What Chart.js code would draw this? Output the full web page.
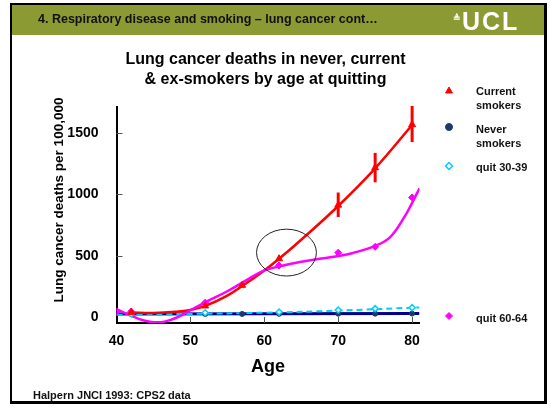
<!DOCTYPE html>
<html>
<head>
<meta charset="utf-8">
<script src="https://cdn.jsdelivr.net/npm/chart.js@4.4.1/dist/chart.umd.min.js"></script>
<style>
    body { margin: 0; background: #fff; font-family: Arial, "Liberation Sans", sans-serif; }
    #wrap { position: relative; width: 551px; height: 410px; overflow: hidden; }
    #chart { position: absolute; left: 0; top: 0; }
    .frame { position: absolute; left: 10px; top: 3px; width: 532px; height: 396px;
        border-style: solid; border-color: #000; border-width: 2px 3px 3px 2px; }
    .header { position: absolute; left: 12px; top: 5px; width: 532px; height: 30px; background: #8b9a32; }
    .header-text { position: absolute; left: 38px; top: 12px; font-size: 12.5px; font-weight: bold; color: #111; white-space: nowrap; }
    .logo { position: absolute; left: 462px; top: 7px; font-size: 25px; font-weight: bold; color: #fff; letter-spacing: 2px; }
    .logo-mark { position: absolute; left: 453px; top: 13px; font-size: 9px; color: #fff; font-weight: bold; }
    .title { position: absolute; left: 100px; top: 49px; width: 331px; text-align: center;
        font-size: 16px; line-height: 20px; font-weight: bold; color: #000; }
    .ytitle { position: absolute; left: 58px; top: 200px; font-size: 13.5px; font-weight: bold; white-space: nowrap;
        transform: translate(-50%, -50%) rotate(-90deg); }
    .legend { position: absolute; left: 476px; font-size: 11px; font-weight: bold; line-height: 14px; color: #111; }
    .footer { position: absolute; left: 33px; top: 389px; font-size: 11px; font-weight: bold; color: #111; }
</style>
</head>
<body>
<div id="wrap">
    <canvas id="chart" width="551" height="410"></canvas>
    <div class="header"></div>
    <div class="header-text">4. Respiratory disease and smoking – lung cancer cont…</div>
    <div class="logo-mark">≜</div>
    <div class="logo">UCL</div>
    <div class="frame"></div>
    <div class="title">Lung cancer deaths in never, current<br>&amp; ex-smokers by age at quitting</div>
    <div class="ytitle">Lung cancer deaths per 100,000</div>
    <div class="legend" style="top:84px">Current<br>smokers</div>
    <div class="legend" style="top:122px">Never<br>smokers</div>
    <div class="legend" style="top:160px">quit 30-39</div>
    <div class="legend" style="top:311px">quit 60-64</div>
    <div class="footer">Halpern JNCI 1993: CPS2 data</div>
</div>
<script>
// Values
const xTicks = [40, 50, 60, 70, 80];
const yTicks = [0, 500, 1000, 1500];

const currentAges = [42, 52, 57, 62, 70, 75, 80];
const currentSmokers = [38, 90, 258, 475, 912, 1217, 1568];
const currentLow = [null, null, null, null, 815, 1098, 1426];
const currentHigh = [null, null, null, null, 1015, 1338, 1720];

const neverAges = [42, 52, 57, 62, 70, 75, 80];
const neverSmokers = [24, 25, 25, 26, 27, 27, 28];

const quit3039Ages = [42, 52, 62, 70, 75, 80];
const quit3039 = [25, 35, 40, 57, 68, 76];

const quit6064Ages = [40, 42, 52, 62, 70, 75, 80];
const quit6064 = [42, 45, 117, 420, 524, 572, 975];

// fitted trend curves as drawn on the slide
const currentFitAges = [42, 45, 48, 50, 52, 55, 57, 60, 62, 65, 70, 75, 80];
const currentFit = [36, 33, 42, 57, 90, 175, 252, 380, 475, 630, 905, 1212, 1565];

const neverFitAges = [40, 81];
const neverFit = [24, 28];

const quit3039FitAges = [40, 50, 60, 70, 81];
const quit3039Fit = [18, 25, 35, 52, 78];

const quit6064FitAges = [40, 41, 42, 43, 44, 45, 46, 47, 48, 49, 50, 52, 55, 58, 60, 62, 65, 68, 70, 72, 75, 77, 79, 80, 81];
const quit6064Fit = [65, 35, 10, -15, -32, -42, -42, -30, -8, 20, 55, 120, 210, 315, 380, 412, 450, 478, 497, 522, 580, 650, 820, 930, 1050];

function pts(xs, ys) {
    return xs.map((x, i) => ({ x: x, y: ys[i] }));
}

const RED = '#ff0000';
const MAGENTA = '#ff00ff';
const CYAN = '#00ccff';
const NAVY = '#00008b';
const NAVY_DOT = '#1b3a6b';

// error bars on current smokers
const errorBars = {
    id: 'errorBars',
    beforeDatasetsDraw(chart) {
        const { ctx, scales: { x, y } } = chart;
        ctx.save();
        ctx.strokeStyle = RED;
        ctx.lineWidth = 3;
        currentAges.forEach((a, i) => {
            if (currentLow[i] == null) return;
            const px = x.getPixelForValue(a);
            ctx.beginPath();
            ctx.moveTo(px, y.getPixelForValue(currentHigh[i]));
            ctx.lineTo(px, y.getPixelForValue(currentLow[i]));
            ctx.stroke();
        });
        ctx.restore();
    }
};

// inward tick marks + circled annotation + legend markers
const extras = {
    id: 'extras',
    afterDatasetsDraw(chart) {
        const { ctx, scales: { x, y } } = chart;
        const area = chart.chartArea;
        ctx.save();
        ctx.strokeStyle = '#555';
        ctx.lineWidth = 1;
        xTicks.slice(1).forEach(t => {
            const px = Math.round(x.getPixelForValue(t)) + 0.5;
            ctx.beginPath();
            ctx.moveTo(px, area.bottom);
            ctx.lineTo(px, area.bottom - 6);
            ctx.stroke();
        });
        yTicks.slice(1).forEach(t => {
            const py = Math.round(y.getPixelForValue(t)) + 0.5;
            ctx.beginPath();
            ctx.moveTo(area.left, py);
            ctx.lineTo(area.left + 6, py);
            ctx.stroke();
        });

        // circle around the age-62 points
        const cx = x.getPixelForValue(63);
        const cy = y.getPixelForValue(525);
        const rx = x.getPixelForValue(67.05) - cx;
        const ry = cy - y.getPixelForValue(716);
        ctx.strokeStyle = '#222';
        ctx.beginPath();
        ctx.ellipse(cx, cy, rx, ry, 0, 0, Math.PI * 2);
        ctx.stroke();

        // legend markers
        const draw = Chart.helpers.drawPoint;
        ctx.lineWidth = 1;
        ctx.fillStyle = RED; ctx.strokeStyle = RED;
        draw(ctx, { pointStyle: 'triangle', radius: 4, borderWidth: 1 }, 449, 91);
        ctx.fillStyle = NAVY_DOT; ctx.strokeStyle = NAVY_DOT;
        draw(ctx, { pointStyle: 'circle', radius: 3.5, borderWidth: 1 }, 449, 127);
        ctx.fillStyle = '#fff'; ctx.strokeStyle = CYAN; ctx.lineWidth = 1.5;
        draw(ctx, { pointStyle: 'rectRot', radius: 3.5, borderWidth: 1.5 }, 449, 166);
        ctx.fillStyle = MAGENTA; ctx.strokeStyle = MAGENTA; ctx.lineWidth = 1;
        draw(ctx, { pointStyle: 'rectRot', radius: 3.5, borderWidth: 1 }, 449, 316);
        ctx.restore();
    }
};

const ctx = document.getElementById('chart').getContext('2d');
const chart = new Chart(ctx, {
    type: 'line',
    data: {
        datasets: [
            { label: 'Never smokers fit', data: pts(neverFitAges, neverFit), borderColor: NAVY, borderWidth: 3,
              pointRadius: 0, order: 8 },
            { label: 'quit 30-39 fit', data: pts(quit3039FitAges, quit3039Fit), borderColor: CYAN, borderWidth: 2,
              borderDash: [6, 4], tension: 0.4, pointRadius: 0, order: 7 },
            { label: 'Current smokers fit', data: pts(currentFitAges, currentFit), borderColor: RED, borderWidth: 2.5,
              tension: 0.4, pointRadius: 0, order: 6 },
            { label: 'quit 60-64 fit', data: pts(quit6064FitAges, quit6064Fit), borderColor: MAGENTA, borderWidth: 2.5,
              tension: 0.4, pointRadius: 0, order: 5 },
            { label: 'Never smokers', data: pts(neverAges, neverSmokers), showLine: false, pointStyle: 'circle',
              pointRadius: 2.5, backgroundColor: NAVY_DOT, borderColor: NAVY_DOT, order: 4 },
            { label: 'quit 30-39', data: pts(quit3039Ages, quit3039), showLine: false, pointStyle: 'rectRot',
              pointRadius: 3, backgroundColor: '#fff', borderColor: CYAN, pointBorderWidth: 1.5, order: 3 },
            { label: 'quit 60-64', data: pts(quit6064Ages, quit6064), showLine: false, pointStyle: 'rectRot',
              pointRadius: 3.5, backgroundColor: MAGENTA, borderColor: MAGENTA, order: 2 },
            { label: 'Current smokers', data: pts(currentAges, currentSmokers), showLine: false, pointStyle: 'triangle',
              pointRadius: 4, backgroundColor: RED, borderColor: RED, order: 1 }
        ]
    },
    options: {
        responsive: false,
        animation: false,
        layout: { padding: { left: 30, top: 107, right: 131.5, bottom: 32 } },
        plugins: {
            legend: { display: false },
            tooltip: { enabled: false }
        },
        scales: {
            x: {
                type: 'linear',
                min: 40,
                max: 81,
                afterFit: (s) => { s.height = 55; },
                afterBuildTicks: (s) => { s.ticks = xTicks.map(v => ({ value: v })); },
                grid: { display: false, drawTicks: false },
                border: { display: true, color: '#000', width: 2 },
                ticks: { color: '#000', padding: 10, font: { family: 'Arial', size: 14, weight: 'bold' },
                         callback: (v) => String(v) },
                title: { display: true, text: 'Age', color: '#000', padding: 0,
                         font: { family: 'Arial', size: 18, weight: 'bold' } }
            },
            y: {
                min: -49,
                max: 1712,
                afterFit: (s) => { s.width = 86.5; },
                afterBuildTicks: (s) => { s.ticks = yTicks.map(v => ({ value: v })); },
                grid: { display: false, drawTicks: false },
                border: { display: true, color: '#000', width: 2 },
                ticks: { color: '#000', padding: 18, font: { family: 'Arial', size: 14, weight: 'bold' },
                         callback: (v) => String(v) }
            }
        }
    },
    plugins: [errorBars, extras]
});
</script>
</body>
</html>
